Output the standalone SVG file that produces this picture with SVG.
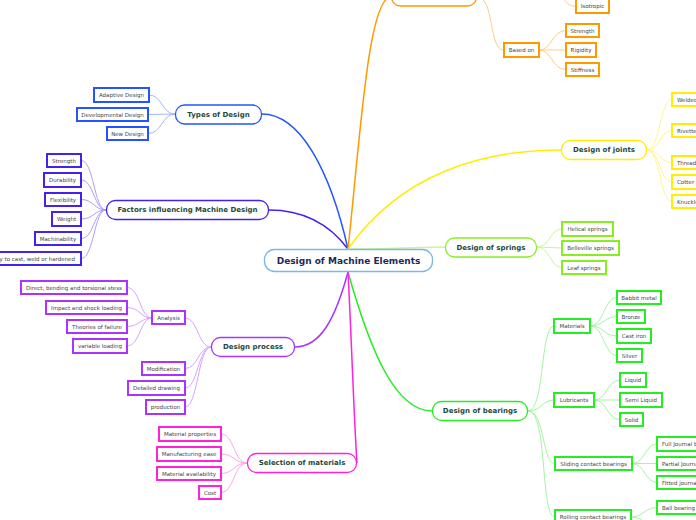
<svg xmlns="http://www.w3.org/2000/svg" width="696" height="520" viewBox="0 0 696 520">
<style>
text{font-family:"DejaVu Sans","Verdana",sans-serif;text-anchor:middle;dominant-baseline:central}
.s{font-size:5.5px;fill:#444}
.m{font-size:7px;font-weight:bold;fill:#1d4a3c}
.c{font-size:9px;font-weight:bold;fill:#1c2b5a}
.sub{fill:#fff;stroke-width:2}
.main{fill:#fff;stroke-width:1.3}
.l{fill:none;stroke-width:1}
.L{fill:none;stroke-width:1.5}
.blue{stroke:#2255ff}.lblue{stroke:#a3b6ff}
.ind{stroke:#4422ee}.lind{stroke:#ad9ff5}
.pur{stroke:#aa33ff}.lpur{stroke:#d8a3ff}
.mag{stroke:#ff22dd}.lmag{stroke:#ffa3ee}
.grn{stroke:#22ee22}.lgrn{stroke:#a3f5a3}
.lim{stroke:#88ee22}.llim{stroke:#c8f59a}
.yel{stroke:#ffee00}.lyel{stroke:#fff590}
.org{stroke:#ff9900}.lorg{stroke:#ffcc85}
</style>
<rect width="696" height="520" fill="#fff"/>
<g id="connectors">
<path class="L blue" d="M262,114 C300,114 330,170 348,249"/>
<path class="L ind" d="M269,210 C305,210 330,225 348,249"/>
<path class="L org" d="M348,249 C360,140 368,-3 391,-3"/>
<path class="L yel" d="M348,249 C400,175 480,150 561,150"/>
<path class="L llim" d="M348,249 C400,249 420,247 445,247"/>
<path class="L grn" d="M348,272 C370,350 395,411 432,411"/>
<path class="L pur" d="M348,272 C335,320 320,347 295,347"/>
<path class="L mag" d="M348,272 C352,350 354,420 357,463"/>
<path class="l lblue" d="M149,95 C162,95 162,114 175,114 M148,114.5 L175,114 M148,133.5 C162,133.5 162,114 175,114"/>
<path class="l lind" d="M81,160.5 C94,160.5 94,210 106,210 M81,180 C94,180 94,210 106,210 M81,199.5 C94,199.5 94,210 106,210 M81,219 C94,219 94,210 106,210 M81,238.5 C94,238.5 94,210 106,210 M81,258.5 C94,258.5 94,210 106,210"/>
<path class="l lpur" d="M127,287.5 C140,287.5 140,318 152,318 M127,307.5 C140,307.5 140,318 152,318 M127,326.5 C140,326.5 140,318 152,318 M127,346 C140,346 140,318 152,318"/>
<path class="l lpur" d="M185,318 C198,318 198,347 211,347 M185,368.5 C198,368.5 198,347 211,347 M185,388 C198,388 198,347 211,347 M185,407 C198,407 198,347 211,347"/>
<path class="l lmag" d="M221,434 C234,434 234,463 247,463 M221,454 C234,454 234,463 247,463 M221,473.5 C234,473.5 234,463 247,463 M221,492.5 C234,492.5 234,463 247,463"/>
<path class="l llim" d="M537,247 C550,247 550,229 562,229 M537,247 L562,248 M537,247 C550,247 550,267.5 562,267.5"/>
<path class="l lyel" d="M647,150 C660,150 660,99.5 672,99.5 M647,150 C660,150 660,130.5 672,130.5 M647,150 C660,150 660,162.5 672,162.5 M647,150 C660,150 660,182 672,182 M647,150 C660,150 660,201.5 672,201.5"/>
<path class="l lgrn" d="M528,411 C545,411 540,326 554,326 M528,411 C542,411 542,400 554,400 M528,411 C545,411 542,463.5 555,463.5 M528,411 C548,411 540,517 555,517"/>
<path class="l lgrn" d="M590,326 C604,326 604,297.5 617,297.5 M590,326 C604,326 604,316.5 617,316.5 M590,326 C604,326 604,336 617,336 M590,326 C604,326 604,355.5 617,355.5"/>
<path class="l lgrn" d="M594,400 C607,400 607,380 620,380 M594,400 L620,400 M594,400 C607,400 607,419.5 620,419.5"/>
<path class="l lgrn" d="M632,463.5 C645,463.5 645,444 657,444 M632,463.5 L657,463.5 M632,463.5 C645,463.5 645,482.5 657,482.5"/>
<path class="l lgrn" d="M631,517 C644,517 644,507.5 657,507.5 M631,517 C644,517 644,526 657,526"/>
<path class="l lorg" d="M477,-3 C495,-3 488,50 504,50"/>
<path class="l lorg" d="M539,50 C552,50 552,30.5 566,30.5 M539,50 L566,50 M539,50 C552,50 552,69.5 566,69.5"/>
<path class="l lorg" d="M545,-20 C560,-20 560,6.5 576,6.5"/>
</g>
<g id="center"><rect class="main" x="264.5" y="249.5" width="168" height="22" rx="10" stroke="#7ab8e6" stroke-width="1.5"/><text class="c" x="348.5" y="260.5">Design of Machine Elements</text></g>
<g id="types"><rect class="main blue" x="175.5" y="105" width="86" height="19" rx="9"/><text class="m" x="218.5" y="114.5">Types of Design</text></g>
<g id="t1"><rect class="sub blue" x="94" y="88" width="55" height="14"/><text class="s" x="121.5" y="95">Adaptive Design</text></g>
<g id="t2"><rect class="sub blue" x="77" y="108" width="71" height="13"/><text class="s" x="112.5" y="114.5">Developmental Design</text></g>
<g id="t3"><rect class="sub blue" x="107" y="127" width="41" height="13"/><text class="s" x="127.5" y="133.5">New Design</text></g>
<g id="factors"><rect class="main ind" x="106.5" y="200.5" width="162" height="19" rx="9"/><text class="m" x="187.5" y="210">Factors influencing Machine Design</text></g>
<g id="f1"><rect class="sub ind" x="47" y="154" width="34" height="13"/><text class="s" x="64" y="160.5">Strength</text></g>
<g id="f2"><rect class="sub ind" x="44" y="173" width="37" height="14"/><text class="s" x="62.5" y="180">Durability</text></g>
<g id="f3"><rect class="sub ind" x="45" y="193" width="36" height="13"/><text class="s" x="63" y="199.5">Flexibility</text></g>
<g id="f4"><rect class="sub ind" x="52" y="212" width="29" height="14"/><text class="s" x="66.5" y="219">Weight</text></g>
<g id="f5"><rect class="sub ind" x="35" y="232" width="46" height="13"/><text class="s" x="58" y="238.5">Machinability</text></g>
<g id="f6"><rect class="sub ind" x="-20" y="252" width="101" height="13"/><text class="s" x="75" y="258.5" style="text-anchor:end">Ability to cast, weld or hardened</text></g>
<g id="process"><rect class="main pur" x="211.5" y="337.5" width="83" height="19" rx="9"/><text class="m" x="253" y="347">Design process</text></g>
<g id="p0"><rect class="sub pur" x="152" y="311" width="33" height="13"/><text class="s" x="168.5" y="317.5">Analysis</text></g>
<g id="p1"><rect class="sub pur" x="21" y="281" width="106" height="13"/><text class="s" x="74" y="287.5">Direct, bending and torsional stess</text></g>
<g id="p2"><rect class="sub pur" x="46" y="301" width="81" height="13"/><text class="s" x="86.5" y="307.5">Impact and shock loading</text></g>
<g id="p3"><rect class="sub pur" x="67" y="320" width="60" height="13"/><text class="s" x="97" y="326.5">Theories of failure</text></g>
<g id="p4"><rect class="sub pur" x="73" y="339" width="54" height="14"/><text class="s" x="100" y="346">variable loading</text></g>
<g id="p5"><rect class="sub pur" x="142" y="362" width="43" height="13"/><text class="s" x="163.5" y="368.5">Modification</text></g>
<g id="p6"><rect class="sub pur" x="128" y="381" width="57" height="14"/><text class="s" x="156.5" y="388">Detailed drawing</text></g>
<g id="p7"><rect class="sub pur" x="146" y="400" width="39" height="14"/><text class="s" x="165.5" y="407">production</text></g>
<g id="selection"><rect class="main mag" x="247.5" y="453.5" width="109" height="19" rx="9"/><text class="m" x="302" y="463">Selection of materials</text></g>
<g id="s1"><rect class="sub mag" x="159" y="427" width="62" height="14"/><text class="s" x="190" y="434">Material properties</text></g>
<g id="s2"><rect class="sub mag" x="157" y="447" width="64" height="14"/><text class="s" x="189" y="454">Manufacturing ease</text></g>
<g id="s3"><rect class="sub mag" x="157" y="467" width="64" height="13"/><text class="s" x="189" y="473.5">Material availability</text></g>
<g id="s4"><rect class="sub mag" x="199" y="486" width="22" height="13"/><text class="s" x="210" y="492.5">Cost</text></g>
<g id="springs"><rect class="main lim" x="445.5" y="238" width="91" height="19" rx="9"/><text class="m" x="491" y="247.5">Design of springs</text></g>
<g id="sp1"><rect class="sub lim" x="562" y="222" width="51" height="14"/><text class="s" x="587.5" y="229">Helical springs</text></g>
<g id="sp2"><rect class="sub lim" x="562" y="241" width="57" height="14"/><text class="s" x="590.5" y="248">Belleville springs</text></g>
<g id="sp3"><rect class="sub lim" x="562" y="261" width="44" height="13"/><text class="s" x="584" y="267.5">Leaf springs</text></g>
<g id="joints"><rect class="main yel" x="561.5" y="140.5" width="85" height="19" rx="9"/><text class="m" x="604" y="150">Design of joints</text></g>
<g id="j1"><rect class="sub yel" x="672" y="93" width="70" height="13"/><text class="s" x="677" y="99.5" style="text-anchor:start">Welded joints</text></g>
<g id="j2"><rect class="sub yel" x="672" y="124" width="70" height="13"/><text class="s" x="677" y="130.5" style="text-anchor:start">Rivetted joints</text></g>
<g id="j3"><rect class="sub yel" x="672" y="156" width="70" height="13"/><text class="s" x="677" y="162.5" style="text-anchor:start">Threaded joints</text></g>
<g id="j4"><rect class="sub yel" x="672" y="175" width="70" height="14"/><text class="s" x="677" y="182" style="text-anchor:start">Cotter joints</text></g>
<g id="j5"><rect class="sub yel" x="672" y="195" width="70" height="13"/><text class="s" x="677" y="201.5" style="text-anchor:start">Knuckle joints</text></g>
<g id="bearings"><rect class="main grn" x="432.5" y="401.5" width="95" height="19" rx="9"/><text class="m" x="480" y="411">Design of bearings</text></g>
<g id="b1"><rect class="sub grn" x="554" y="319" width="36" height="14"/><text class="s" x="572" y="326">Materials</text></g>
<g id="b11"><rect class="sub grn" x="617" y="291" width="44" height="13"/><text class="s" x="639" y="297.5">Babbit metal</text></g>
<g id="b12"><rect class="sub grn" x="617" y="310" width="28" height="13"/><text class="s" x="631" y="316.5">Bronze</text></g>
<g id="b13"><rect class="sub grn" x="617" y="329" width="34" height="14"/><text class="s" x="634" y="336">Cast iron</text></g>
<g id="b14"><rect class="sub grn" x="617" y="349" width="25" height="13"/><text class="s" x="629.5" y="355.5">Silver</text></g>
<g id="b2"><rect class="sub grn" x="554" y="393" width="40" height="14"/><text class="s" x="574" y="400">Lubricants</text></g>
<g id="b21"><rect class="sub grn" x="620" y="373" width="26" height="14"/><text class="s" x="633" y="380">Liquid</text></g>
<g id="b22"><rect class="sub grn" x="620" y="393" width="42" height="14"/><text class="s" x="641" y="400">Semi Liquid</text></g>
<g id="b23"><rect class="sub grn" x="620" y="413" width="23" height="13"/><text class="s" x="631.5" y="419.5">Solid</text></g>
<g id="b3"><rect class="sub grn" x="555" y="457" width="77" height="13"/><text class="s" x="593.5" y="463.5">Sliding contact bearings</text></g>
<g id="b31"><rect class="sub grn" x="657" y="437" width="80" height="14"/><text class="s" x="662" y="444" style="text-anchor:start">Full Journal bearing</text></g>
<g id="b32"><rect class="sub grn" x="657" y="457" width="80" height="13"/><text class="s" x="662" y="463.5" style="text-anchor:start">Partial Journal bearing</text></g>
<g id="b33"><rect class="sub grn" x="657" y="476" width="80" height="13"/><text class="s" x="662" y="482.5" style="text-anchor:start">Fitted journal bearing</text></g>
<g id="b4"><rect class="sub grn" x="555" y="510" width="76" height="14"/><text class="s" x="593" y="517">Rolling contact bearings</text></g>
<g id="b41"><rect class="sub grn" x="657" y="501" width="80" height="13"/><text class="s" x="662" y="507.5" style="text-anchor:start">Ball bearing</text></g>
<g id="orange"><rect class="main org" x="391.5" y="-14" width="85" height="20" rx="9"/></g>
<g id="o1"><rect class="sub org" x="576" y="-1" width="33" height="14"/><text class="s" x="592.5" y="6">Isotropic</text></g>
<g id="o2"><rect class="sub org" x="504" y="43" width="35" height="14"/><text class="s" x="521.5" y="50">Based on</text></g>
<g id="o21"><rect class="sub org" x="566" y="24" width="33" height="13"/><text class="s" x="582.5" y="30.5">Strength</text></g>
<g id="o22"><rect class="sub org" x="566" y="43" width="30" height="14"/><text class="s" x="581" y="50">Rigidity</text></g>
<g id="o23"><rect class="sub org" x="566" y="63" width="33" height="13"/><text class="s" x="582.5" y="69.5">Stiffness</text></g>
</svg>
